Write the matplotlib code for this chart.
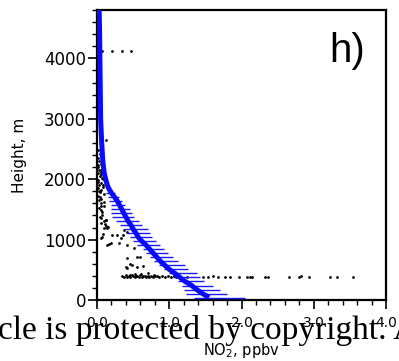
import numpy as np
import matplotlib.pyplot as plt
from matplotlib.ticker import MultipleLocator

# mean NO2 profile (ppbv) vs height (m)
prof_h = [40, 107, 173, 240, 307, 373, 440, 507, 573, 640, 707, 773, 840, 907,
          973, 1040, 1107, 1173, 1240, 1307, 1373, 1440, 1507, 1573, 1640, 1707,
          1773, 1850, 1950, 2100, 2300, 2600, 3000, 3500, 4000, 4500, 4800]
prof_no2 = [1.55, 1.46, 1.38, 1.31, 1.22, 1.15, 1.08, 1.00, 0.94, 0.88, 0.83, 0.78,
            0.73, 0.68, 0.62, 0.57, 0.54, 0.50, 0.47, 0.43, 0.40, 0.37, 0.34, 0.31,
            0.28, 0.24, 0.20, 0.16, 0.13, 0.10, 0.08, 0.065, 0.05, 0.045, 0.04,
            0.035, 0.03]

# spread bars (low / high ends) for the lower part of the profile
bar_lo = [1.34, 1.23, 1.21, 1.17, 1.12, 1.05, 0.99, 0.93, 0.86, 0.79, 0.74, 0.68,
          0.63, 0.56, 0.50, 0.45, 0.41, 0.37, 0.32, 0.26, 0.21, 0.19, 0.20, 0.19,
          0.17, 0.15, 0.13]
bar_hi = [2.05, 1.80, 1.70, 1.60, 1.48, 1.43, 1.38, 1.26, 1.22, 1.12, 1.05, 0.98,
          0.93, 0.87, 0.82, 0.76, 0.73, 0.70, 0.62, 0.58, 0.51, 0.48, 0.45, 0.39,
          0.34, 0.30, 0.25]

# individual measurements
obs_x = [0.02, 0.04, 0.01, 0.03, 0.05, 0.02, 0.06, 0.01, 0.04, 0.07, 0.02, 0.05,
         0.03, 0.08, 0.01, 0.06, 0.04, 0.09, 0.02, 0.12,
         0.03, 0.05, 0.06, 0.05, 0.07, 0.05, 0.12, 0.09, 0.10, 0.14, 0.12, 0.07,
         0.05, 0.21, 0.28, 0.19, 0.14, 0.17, 0.30, 0.42, 0.42, 0.37, 0.51, 0.56,
         0.60, 0.42, 0.40, 0.42, 0.49, 0.56, 0.63, 0.33, 0.36, 0.45,
         0.35, 0.38, 0.40, 0.42, 0.44, 0.46, 0.48, 0.50, 0.52, 0.54, 0.56, 0.58,
         0.60, 0.62, 0.64, 0.66, 0.68, 0.70, 0.72, 0.75, 0.78, 0.80, 0.83, 0.86,
         0.90, 0.94, 0.98, 1.02, 1.06, 1.10, 0.45, 0.52, 0.61, 0.70, 0.79,
         1.24, 1.47, 1.54, 1.61, 1.68, 1.77, 1.84, 1.96, 2.07, 2.12, 2.14, 2.33,
         2.37, 2.66, 2.80, 2.82, 2.94, 3.23, 3.32, 3.55,
         0.065, 0.21, 0.34, 0.47,
         0.03, 0.06, 0.02, 0.08, 0.04, 0.10, 0.03, 0.07, 0.05, 0.11,
         0.02, 0.05, 0.08, 0.03, 0.06, 0.09, 0.04, 0.13, 0.15, 0.08]
obs_h = [2480, 2420, 2350, 2300, 2250, 2200, 2150, 2100, 2060, 2020, 1980, 1940,
         1900, 1870, 1850, 1820, 1780, 1750, 1720, 2656,
         1653, 1600, 1550, 1488, 1405, 1350, 1322, 1300, 1185, 1185, 1220, 1047,
         1020, 1074, 1074, 937, 910, 925, 937, 910, 1129, 1157, 854, 716,
         716, 689, 551, 534, 578, 551, 567, 1030, 1070, 600,
         395, 380, 410, 385, 400, 375, 415, 390, 380, 405, 395, 385, 410, 380,
         400, 390, 375, 405, 385, 395, 380, 400, 390, 385, 395, 380, 390, 385,
         395, 388, 420, 430, 425, 440, 415,
         386, 386, 380, 390, 386, 383, 388, 386, 386, 380, 386, 386,
         386, 386, 386, 390, 386, 386, 386, 386,
         4116, 4116, 4116, 4116,
         2150, 2080, 1960, 1900, 1700, 1620, 1520, 1450, 1280, 1250,
         2240, 2120, 2010, 1800, 1680, 1560, 1380, 1330, 1210, 1100]

xticks = [0, 1, 2, 3, 4]
xticklabels = ["0.0", "1.0", "2.0", "3.0", "4.0"]
yticks = [0, 1000, 2000, 3000, 4000]

plt.rcParams['font.family'] = ['DejaVu Sans']

fig = plt.figure(figsize=(3.99, 3.61), dpi=100)
ax = fig.add_axes([97/399, 1 - 300/361, 289/399, 290/361])

ax.scatter(obs_x, obs_h, s=4, color='black', zorder=2, linewidths=0)

bh = prof_h[:len(bar_lo)]
bm = prof_no2[:len(bar_lo)]
xerr = [np.array(bm) - np.array(bar_lo), np.array(bar_hi) - np.array(bm)]
ax.errorbar(bm, bh, xerr=xerr, fmt='none', ecolor='#1a1aff', elinewidth=1.0,
            capsize=0, zorder=3)
ax.plot(prof_no2, prof_h, color='#0a0aff', lw=3.6, zorder=4, solid_capstyle='butt')

ax.set_xlim(0, 4)
ax.set_ylim(0, 4800)
ax.set_xticks(xticks)
ax.set_xticklabels(xticklabels)
ax.set_yticks(yticks)
ax.xaxis.set_minor_locator(MultipleLocator(0.2))
ax.yaxis.set_minor_locator(MultipleLocator(200))
ax.tick_params(which='major', direction='out', length=6.5, width=1.2,
               top=False, right=False)
ax.tick_params(which='minor', direction='out', length=3.5, width=1.0,
               top=False, right=False)
ax.tick_params(axis='y', pad=1.5, labelsize=12)
ax.tick_params(axis='x', pad=5, labelsize=10)
for s in ax.spines.values():
    s.set_linewidth(1.6)

ax.set_ylabel("Height, m", fontsize=11, labelpad=12)
ax.set_xlabel("NO$_2$, ppbv", fontsize=10.5, labelpad=8)

ax.text(0.865, 0.86, "h)", transform=ax.transAxes, fontsize=29,
        family='Liberation Sans', ha='center', va='center')

fig.text(-0.005, 1 - 339/361, "cle is protected by copyright. All rights reserved.",
         family='Liberation Serif', fontsize=24, ha='left', va='baseline',
         color='black', zorder=10)

fig.savefig("out.png", dpi=100)
